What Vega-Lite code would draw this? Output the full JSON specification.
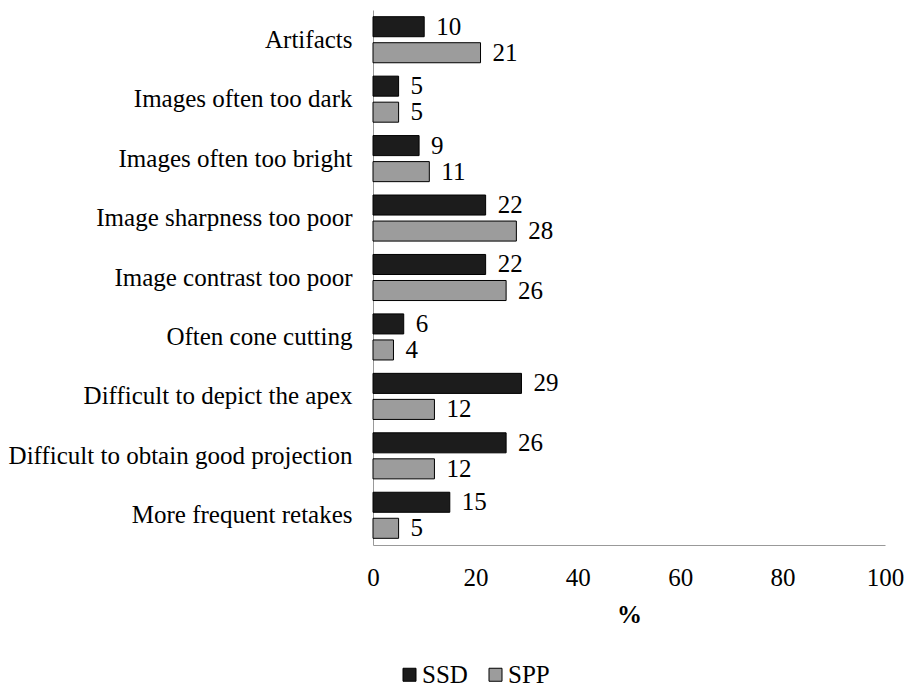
{
  "$schema": "https://vega.github.io/schema/vega-lite/v6.json",
  "width": 512,
  "height": 535,
  "autosize": {"type": "none"},
  "padding": {"left": 373, "top": 10, "right": 23, "bottom": 143},
  "config": {
    "font": "Liberation Serif, Times New Roman, serif",
    "view": {"stroke": null},
    "axis": {"labelFont": "Liberation Serif, Times New Roman, serif", "titleFont": "Liberation Serif, Times New Roman, serif", "labelColor": "#000", "titleColor": "#000"},
    "legend": {"labelFont": "Liberation Serif, Times New Roman, serif", "labelColor": "#000"},
    "text": {"font": "Liberation Serif, Times New Roman, serif"}
  },
  "data": {
    "values": [
      {"cat": "Artifacts", "series": "SSD", "value": 10},
      {"cat": "Artifacts", "series": "SPP", "value": 21},
      {"cat": "Images often too dark", "series": "SSD", "value": 5},
      {"cat": "Images often too dark", "series": "SPP", "value": 5},
      {"cat": "Images  often too bright", "series": "SSD", "value": 9},
      {"cat": "Images  often too bright", "series": "SPP", "value": 11},
      {"cat": "Image sharpness too poor", "series": "SSD", "value": 22},
      {"cat": "Image sharpness too poor", "series": "SPP", "value": 28},
      {"cat": "Image contrast too poor", "series": "SSD", "value": 22},
      {"cat": "Image contrast too poor", "series": "SPP", "value": 26},
      {"cat": "Often cone cutting", "series": "SSD", "value": 6},
      {"cat": "Often cone cutting", "series": "SPP", "value": 4},
      {"cat": "Difficult to depict the apex", "series": "SSD", "value": 29},
      {"cat": "Difficult to depict the apex", "series": "SPP", "value": 12},
      {"cat": "Difficult to obtain good projection", "series": "SSD", "value": 26},
      {"cat": "Difficult to obtain good projection", "series": "SPP", "value": 12},
      {"cat": "More frequent retakes", "series": "SSD", "value": 15},
      {"cat": "More frequent retakes", "series": "SPP", "value": 5}
    ]
  },
  "encoding": {
    "y": {
      "field": "cat", "type": "nominal", "sort": null,
      "scale": {"paddingInner": 0.225, "paddingOuter": 0.1125},
      "axis": {"title": null, "ticks": false, "labelFontSize": 25, "labelPadding": 21, "domainColor": "#999", "labelLimit": 400}
    },
    "yOffset": {"field": "series", "sort": ["SSD", "SPP"], "scale": {"paddingInner": 0.23, "paddingOuter": 0}},
    "x": {
      "field": "value", "type": "quantitative",
      "scale": {"domain": [0, 100]},
      "axis": {"values": [0, 20, 40, 60, 80, 100], "grid": false, "ticks": false, "labelFlush": false, "labelFontSize": 25, "labelPadding": 20, "title": "%", "titleFontSize": 25, "titleFontWeight": "bold", "titlePadding": 12, "domainColor": "#999"}
    }
  },
  "layer": [
    {
      "mark": {"type": "bar", "stroke": "#000", "strokeWidth": 1},
      "encoding": {
        "color": {
          "field": "series", "type": "nominal",
          "scale": {"domain": ["SSD", "SPP"], "range": ["#1c1c1c", "#9c9c9c"]},
          "legend": {"title": null, "orient": "none", "legendX": 24, "legendY": 652, "padding": 0, "direction": "horizontal", "symbolType": "square", "symbolSize": 169, "symbolStrokeColor": "#000", "symbolStrokeWidth": 1, "labelFontSize": 25, "columnPadding": 15, "labelOffset": 0}
        }
      }
    },
    {
      "mark": {"type": "text", "align": "left", "baseline": "middle", "dx": 12, "fontSize": 25, "color": "#000"},
      "encoding": {"text": {"field": "value", "type": "quantitative"}}
    }
  ]
}
